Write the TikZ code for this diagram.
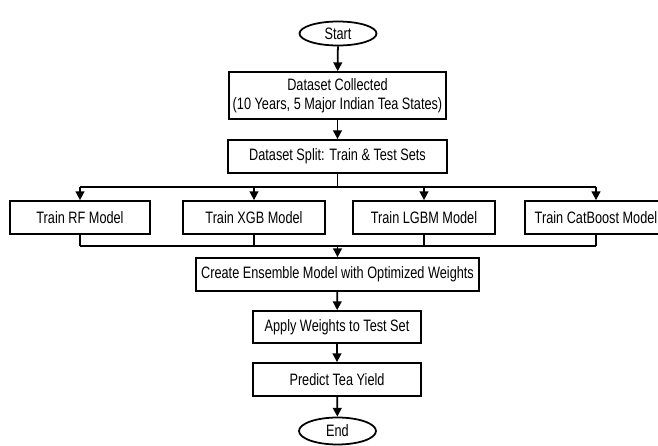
\documentclass[tikz,border=0pt]{standalone}
\usepackage{fontspec}
\setmainfont{Liberation Sans}[FakeStretch=0.77]
\usetikzlibrary{arrows.meta,shapes.geometric}

\begin{document}
\begin{tikzpicture}[
        font=\fontsize{9.4}{11}\selectfont,
        box/.style={draw, line width=1pt, minimum height=0.66cm, align=center, inner sep=1pt},
        term/.style={draw, ellipse, line width=1pt, minimum width=1.54cm, minimum height=0.48cm, inner sep=0pt},
        arr/.style={line width=1pt, -{Triangle[length=5pt,width=5pt]}},
        bus/.style={line width=1pt}
    ]
        \useasboundingbox (0,0) rectangle (13.16,-8.92);

        \node[term] (start) at (6.76,-0.67) {Start};
        \node[box, minimum width=4.34cm, minimum height=0.94cm] (collect) at (6.75,-1.91) {Dataset Collected\\(10 Years, 5 Major Indian Tea States)};
        \node[box, minimum width=4.38cm] (split) at (6.75,-3.13) {Dataset Split: Train \& Test Sets};

        \node[box, minimum width=2.8cm] (rf) at (1.6,-4.35) {Train RF Model};
        \node[box, minimum width=2.84cm] (xgb) at (5.08,-4.35) {Train XGB Model};
        \node[box, minimum width=2.84cm] (lgbm) at (8.48,-4.35) {Train LGBM Model};
        \node[box, minimum width=2.84cm] (cat) at (11.92,-4.35) {Train CatBoost Model};

        \node[box, minimum width=5.66cm] (ensemble) at (6.75,-5.49) {Create Ensemble Model with Optimized Weights};
        \node[box, minimum width=3.36cm, minimum height=0.64cm] (apply) at (6.74,-6.54) {Apply Weights to Test Set};
        \node[box, minimum width=3.36cm] (predict) at (6.74,-7.59) {Predict Tea Yield};
        \node[term, minimum height=0.54cm] (end) at (6.75,-8.62) {End};

        \coordinate (bustop) at (6.75,-3.74);
        \coordinate (busbot) at (6.75,-4.92);

        \draw[arr] (start) -- (collect);
        \draw[arr] (collect) -- (split);

        \draw[bus] (split) -- (bustop);
        \draw[bus] (bustop -| rf) -- (bustop -| cat);
        \foreach \m in {rf,xgb,lgbm,cat}
            \draw[arr] (bustop -| \m) -- (\m);

        \foreach \m in {rf,xgb,lgbm,cat}
            \draw[bus] (\m) -- (busbot -| \m);
        \draw[bus] (busbot -| rf) -- (busbot -| cat);
        \draw[arr] (busbot) -- (ensemble);

        \draw[arr] (ensemble) -- (apply);
        \draw[arr] (apply) -- (predict);
        \draw[arr] (predict) -- (end);
    \end{tikzpicture}
\end{document}
